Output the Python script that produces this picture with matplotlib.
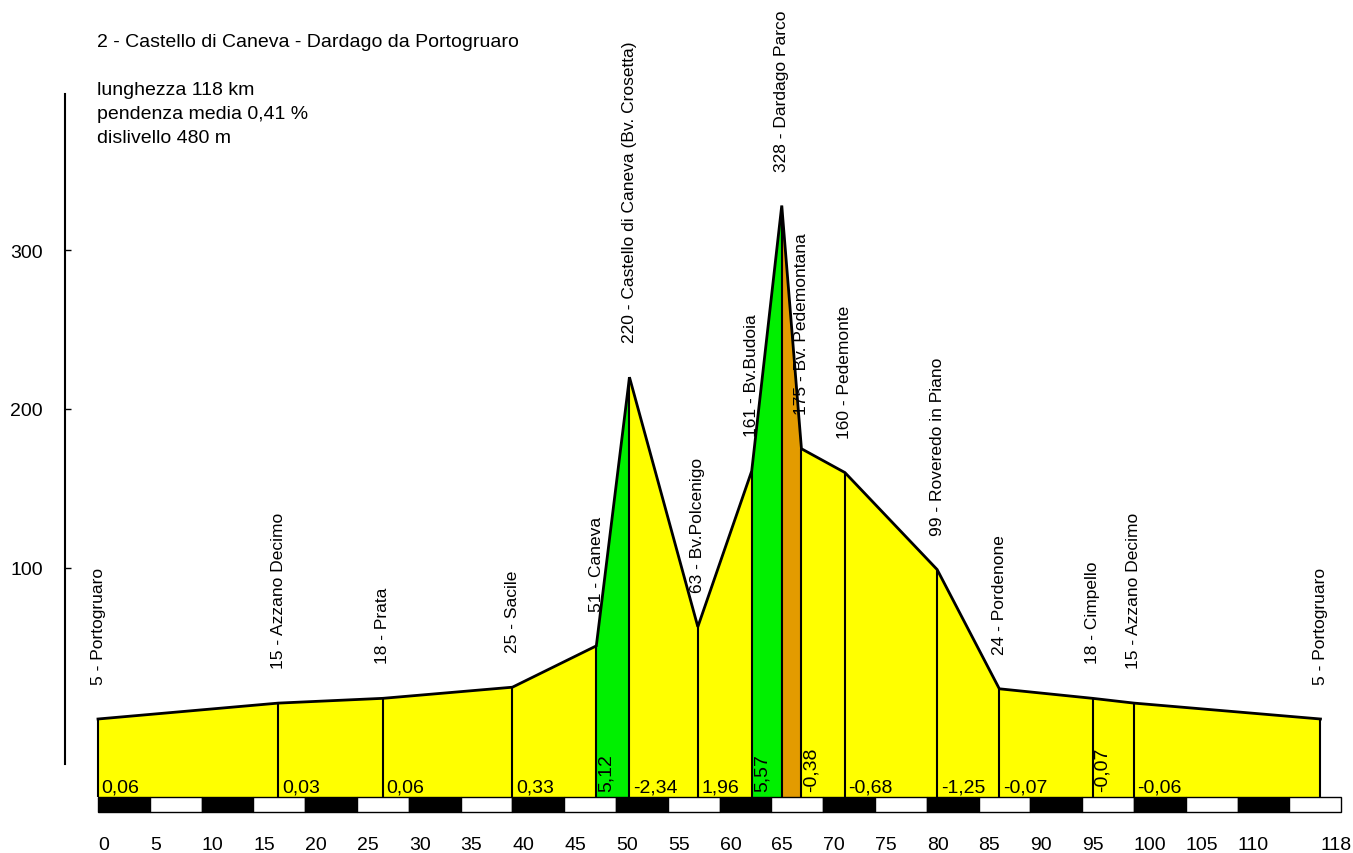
import matplotlib
matplotlib.use("Agg")
from matplotlib import pyplot as plt

plt.rcParams['font.family'] = ['Liberation Sans', 'DejaVu Sans']

# profile points: km, elevation (m), place name
km = [0, 17.4, 27.5, 40.0, 48.1, 51.3, 57.9, 63.1, 66.0, 67.9, 72.1, 81.0, 87.0, 96.0, 100.0, 118]
elev = [5, 15, 18, 25, 51, 220, 63, 161, 328, 175, 160, 99, 24, 18, 15, 5]
places = ["Portogruaro", "Azzano Decimo", "Prata", "Sacile", "Caneva",
          "Castello di Caneva (Bv. Crosetta)", "Bv.Polcenigo", "Bv.Budoia",
          "Dardago Parco", "Bv. Pedemontana", "Pedemonte", "Roveredo in Piano",
          "Pordenone", "Cimpello", "Azzano Decimo", "Portogruaro"]

# per segment: gradient label, colour, rotated label
grad_labels = ["0,06", "0,03", "0,06", "0,33", "5,12", "-2,34", "1,96", "5,57", "",
               "-0,38", "-0,68", "-1,25", "-0,07", "-0,07", "-0,06"]
seg_colors = ["#FFFF00", "#FFFF00", "#FFFF00", "#FFFF00", "#00F000", "#FFFF00", "#FFFF00",
              "#00F000", "#E39B00", "#FFFF00", "#FFFF00", "#FFFF00", "#FFFF00", "#FFFF00", "#FFFF00"]
rotated = [False, False, False, False, True, False, False, True, False,
           True, False, False, False, True, False]

x_ticks = [0, 5, 10, 15, 20, 25, 30, 35, 40, 45, 50, 55, 60, 65, 70, 75, 80, 85, 90, 95,
           100, 105, 110, 118]
y_ticks = [100, 200, 300]

title = "2 - Castello di Caneva - Dardago da Portogruaro"
info = ["lunghezza 118 km", "pendenza media 0,41 %", "dislivello 480 m"]

base = -44
bar_bottom = -53.5

fig = plt.figure(figsize=(13.53, 8.54), dpi=100)
ax = fig.add_axes([0, 41 / 854, 1, 813 / 854])
ax.set_xlim(-9.46, 121.14)
ax.set_ylim(bar_bottom, 457.9)

for i in range(len(km) - 1):
    ax.fill_between(km[i:i + 2], elev[i:i + 2], base, color=seg_colors[i], linewidth=0)
    lab = grad_labels[i]
    if not lab:
        continue
    if rotated[i]:
        ax.text(km[i] + 0.15, base + 4, lab, rotation=90, ha='left', va='bottom', fontsize=14)
    else:
        ax.text(km[i] + 0.35, base + 3.5, lab, ha='left', va='baseline', fontsize=14)

ax.vlines(km, base, elev, color='black', linewidth=1.5)
ax.plot(km, elev, color='black', linewidth=2, solid_joinstyle='miter')

for k, e, p in zip(km, elev, places):
    ax.text(k, e + 22, f"{e} - {p}", rotation=90, ha='center', va='bottom', fontsize=12.5)

# checkered km bar
for i in range(24):
    ax.bar(5 * i, base - bar_bottom, bottom=bar_bottom, width=5, align='edge',
           color='black' if i % 2 == 0 else 'white', edgecolor='black', linewidth=1,
           clip_on=False)

for s in ['top', 'right', 'bottom']:
    ax.spines[s].set_visible(False)
ax.spines['left'].set_position(('data', -3.2))
ax.spines['left'].set_bounds(-23.3, 398)
ax.spines['left'].set_linewidth(1.5)
ax.set_yticks(y_ticks)
ax.tick_params(axis='y', direction='in', length=4, width=1, pad=16, labelsize=14)
ax.set_xticks(x_ticks)
ax.set_xticklabels([str(t) for t in x_ticks], ha='left')
ax.tick_params(axis='x', length=0, pad=17, labelsize=14)

fig.text(97 / 1353, 1 - 47 / 854, title, fontsize=14, va='baseline')
for j, line in enumerate(info):
    fig.text(97 / 1353, 1 - (95 + 24 * j) / 854, line, fontsize=14, va='baseline')

fig.savefig("out.png", dpi=100)
